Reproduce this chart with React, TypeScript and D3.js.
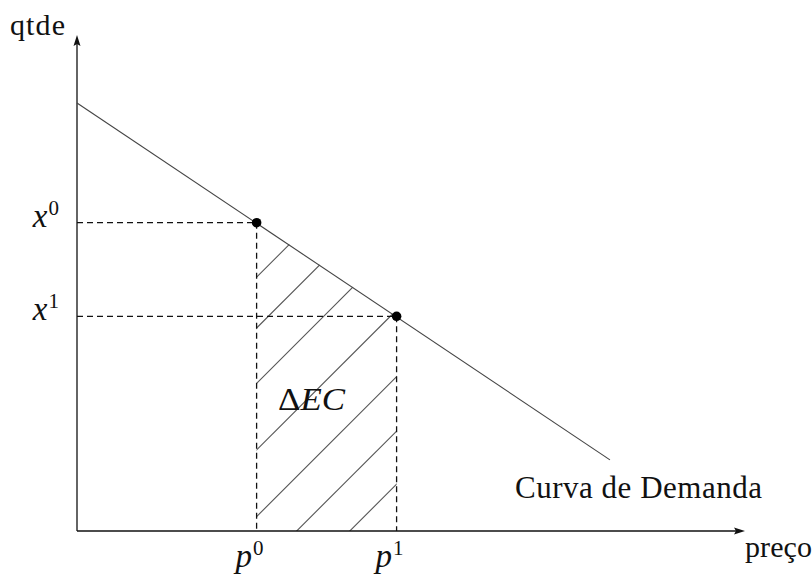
import React from 'react';
import * as d3 from 'd3';

const W = 812;
const H = 577;

// Demand curve end points (preço, qtde)
const demandCurve = [
  { p: 0, q: 9.51 },
  { p: 11.84, q: 1.58 },
];
// The two price / quantity situations
const prices = [3.99, 7.1];
const quantities = [6.85, 4.77];
const superscripts = ['0', '1'];
// Quantity at which each 45° hatch stroke crosses the p⁰ line
const hatchOffsets = [-2.07, -0.89, 0.32, 1.8, 3.28, 4.51, 5.64];
// Axis extents (arrow tips)
const axisMaxP = 14.84;
const axisMaxQ = 11.02;

const FONT = '"Liberation Serif", "DejaVu Serif", serif';

export default function App() {
  const x = d3.scaleLinear().domain([0, axisMaxP]).range([77, 745]);
  const y = d3.scaleLinear().domain([0, axisMaxQ]).range([531, 35]);

  const line = d3
    .line<{ p: number; q: number }>()
    .x((d) => x(d.p))
    .y((d) => y(d.q));

  const [p0, p1] = prices;
  const [q0, q1] = quantities;

  const clipPoly = [
    { p: p0, q: 0 },
    { p: p0, q: q0 },
    { p: p1, q: q1 },
    { p: p1, q: 0 },
  ];
  const clipPath = line(clipPoly) + 'Z';

  const hatchPaths = hatchOffsets.map((off) =>
    line([
      { p: p0 - 6, q: off - 6 },
      { p: p1 + 6, q: off + (p1 - p0) + 6 },
    ])
  );

  const ink = '#111';
  const dash = '6,4';

  return (
    <svg
      width={W}
      height={H}
      style={{ position: 'absolute', left: 0, top: 0, background: '#fff' }}
      fontFamily={FONT}
    >
      <defs>
        <clipPath id="ec-area">
          <path d={clipPath} />
        </clipPath>
      </defs>

      {/* hatched consumer-surplus change */}
      <g clipPath="url(#ec-area)">
        {hatchPaths.map((d, i) => (
          <path key={i} d={d!} stroke="#555" strokeWidth={1.1} fill="none" />
        ))}
      </g>

      {/* axes */}
      <line x1={x(0)} y1={y(0)} x2={x(0)} y2={y(axisMaxQ) + 8} stroke={ink} strokeWidth={1.3} />
      <path
        d={`M${x(0)},${y(axisMaxQ)} L${x(0) - 3.5},${y(axisMaxQ) + 11} L${x(0)},${y(axisMaxQ) + 9} L${x(0) + 3.5},${y(axisMaxQ) + 11}Z`}
        fill={ink}
      />
      <line x1={x(0)} y1={y(0)} x2={x(axisMaxP) - 8} y2={y(0)} stroke={ink} strokeWidth={1.3} />
      <path
        d={`M${x(axisMaxP)},${y(0)} L${x(axisMaxP) - 11},${y(0) - 3.5} L${x(axisMaxP) - 9},${y(0)} L${x(axisMaxP) - 11},${y(0) + 3.5}Z`}
        fill={ink}
      />

      {/* demand curve */}
      <path d={line(demandCurve)!} stroke="#444" strokeWidth={1.1} fill="none" />

      {/* guide lines */}
      {prices.map((p, i) => (
        <g key={i}>
          <line
            x1={x(0)}
            y1={y(quantities[i])}
            x2={x(p)}
            y2={y(quantities[i])}
            stroke={ink}
            strokeWidth={1.3}
            strokeDasharray={dash}
          />
          <line
            x1={x(p)}
            y1={y(quantities[i])}
            x2={x(p)}
            y2={y(0)}
            stroke={ink}
            strokeWidth={1.3}
            strokeDasharray={dash}
          />
          <circle cx={x(p)} cy={y(quantities[i])} r={4.8} fill="#000" />
        </g>
      ))}

      {/* quantity labels */}
      {quantities.map((q, i) => (
        <text key={i} x={59} y={y(q) + 4} textAnchor="end" fill={ink} fontSize={33}>
          <tspan fontStyle="italic">x</tspan>
          <tspan fontSize={21} dy={-12} dx={1}>
            {superscripts[i]}
          </tspan>
        </text>
      ))}

      {/* price labels */}
      {prices.map((p, i) => (
        <text key={i} x={x(p) + 7} y={567} textAnchor="end" fill={ink} fontSize={33}>
          <tspan fontStyle="italic">p</tspan>
          <tspan fontSize={21} dy={-12} dx={1}>
            {superscripts[i]}
          </tspan>
        </text>
      ))}

      <text x={278} y={410} fill={ink} fontSize={31} textLength={67} lengthAdjust="spacingAndGlyphs">
        Δ<tspan fontStyle="italic">EC</tspan>
      </text>

      <text x={10} y={35} fill={ink} fontSize={30} textLength={55} lengthAdjust="spacing">
        qtde
      </text>
      <text x={745} y={557} fill={ink} fontSize={30} textLength={67} lengthAdjust="spacing">
        preço
      </text>
      <text x={515} y={498} fill={ink} fontSize={31} textLength={247} lengthAdjust="spacing">
        Curva de Demanda
      </text>
    </svg>
  );
}
